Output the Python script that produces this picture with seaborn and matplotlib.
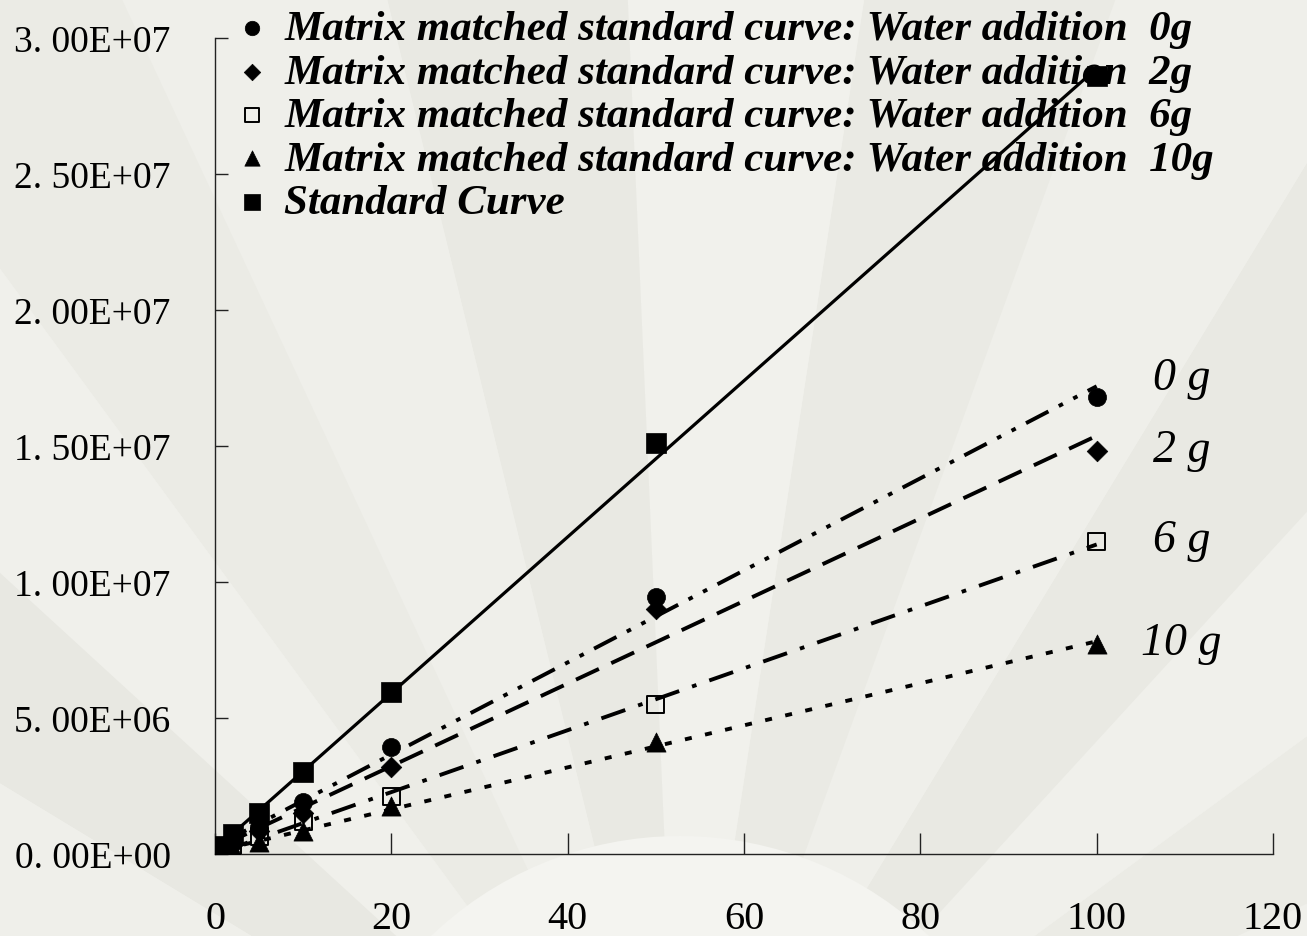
import numpy as np
import pandas as pd
import seaborn as sns
import matplotlib
matplotlib.use("Agg")
import matplotlib.pyplot as plt
from matplotlib.patches import Wedge

# ---------------- data ----------------
conc = [1, 2, 5, 10, 20, 50, 100]
std_curve = [0.28e6, 0.75e6, 1.5e6, 3.0e6, 5.95e6, 1.51e7, 2.86e7]
water_0g = [0.2e6, 0.45e6, 1.0e6, 1.9e6, 3.93e6, 9.45e6, 1.68e7]
water_2g = [0.17e6, 0.38e6, 0.85e6, 1.5e6, 3.2e6, 9.0e6, 1.48e7]
water_6g = [0.13e6, 0.3e6, 0.65e6, 1.2e6, 2.13e6, 5.48e6, 1.15e7]
water_10g = [0.09e6, 0.2e6, 0.45e6, 0.85e6, 1.76e6, 4.12e6, 7.72e6]

legend_labels = [
    "Matrix matched standard curve: Water addition  0g",
    "Matrix matched standard curve: Water addition  2g",
    "Matrix matched standard curve: Water addition  6g",
    "Matrix matched standard curve: Water addition  10g",
    "Standard Curve",
]
end_labels = ["0 g", "2 g", "6 g", "10 g"]
end_label_y = [1.75e7, 1.485e7, 1.155e7, 7.75e6]

x_ticks = [0, 20, 40, 60, 80, 100, 120]
y_ticks = [0, 5e6, 1e7, 1.5e7, 2e7, 2.5e7, 3e7]
y_tick_labels = ["0. 00E+00", "5. 00E+06", "1. 00E+07", "1. 50E+07",
                 "2. 00E+07", "2. 50E+07", "3. 00E+07"]

# ---------------- styling ----------------
sns.set_theme(style="white")
plt.rcParams["font.family"] = ["Liberation Serif", "DejaVu Serif"]
plt.rcParams["text.color"] = "black"
plt.rcParams["xtick.color"] = "black"
plt.rcParams["ytick.color"] = "black"
plt.rcParams["axes.labelcolor"] = "black"

fig = plt.figure(figsize=(13.07, 9.37), dpi=100)
fig.patch.set_facecolor("#f0f0eb")

# faint fan-like background
bg = fig.add_axes([0, 0, 1, 1], zorder=-5)
bg.set_xlim(0, 1307)
bg.set_ylim(0, 937)
bg.axis("off")
shades = ["#ebebe5", "#f0f0eb", "#e9e9e3", "#efefea", "#eaeae4", "#f1f1ec",
          "#e9e9e3", "#efefea", "#ebebe5", "#f0f0eb", "#e8e8e2", "#efefea"]
angles = np.linspace(25, 160, len(shades) + 1)
for i, c in enumerate(shades):
    bg.add_patch(Wedge((680, -260), 1450, angles[i], angles[i + 1],
                       facecolor=c, edgecolor="none"))
bg.add_patch(Wedge((680, -260), 360, 0, 180, facecolor="#f4f4f0", edgecolor="none"))

ax = fig.add_axes([0.1645, 0.0875, 0.8095, 0.871])
ax.set_facecolor("none")

series = [
    (water_0g, "o", (0, (6.5, 3, 1.2, 3, 1.2, 3)), "black", 170),
    (water_2g, "D", (0, (6.5, 3.5)), "black", 110),
    (water_6g, "s", (0, (6.5, 3.5, 1.2, 3.5)), "none", 150),
    (water_10g, "^", (0, (1.8, 3.5)), "black", 190),
    (std_curve, "s", "-", "black", 190),
]

for (vals, mk, ls, fc, size), lab in zip(series, legend_labels):
    df = pd.DataFrame({"x": conc, "y": vals})
    lw = 2.3 if ls == "-" else 2.8
    sns.regplot(data=df, x="x", y="y", scatter=False, ci=None, ax=ax,
                line_kws=dict(color="black", lw=lw, linestyle=ls,
                              dash_capstyle="butt", zorder=2))
    sns.scatterplot(data=df, x="x", y="y", marker=mk, s=size, ax=ax,
                    facecolor=fc, edgecolor="black",
                    linewidth=1.4 if fc == "none" else 0.5,
                    label=lab, zorder=3)

for lab, yv in zip(end_labels, end_label_y):
    ax.text(109.6, yv, lab, ha="center", va="center", fontsize=33,
            style="italic", color="black")

ax.set_xlim(0, 120)
ax.set_ylim(0, 3e7)
ax.set_xticks(x_ticks)
ax.set_xticklabels([str(t) for t in x_ticks], fontsize=29)
ax.set_yticks(y_ticks)
ax.set_yticklabels(y_tick_labels, fontsize=27)
ax.set_xlabel("")
ax.set_ylabel("")

for side in ["top", "right"]:
    ax.spines[side].set_visible(False)
for side in ["left", "bottom"]:
    ax.spines[side].set_color("#222222")
    ax.spines[side].set_linewidth(1.0)

ax.tick_params(axis="y", direction="in", length=9, width=1.0, color="#222222", pad=32, left=True)
ax.tick_params(axis="x", direction="in", length=15, width=1.0, color="#222222", pad=33, bottom=True)

leg = ax.legend(loc="upper left", bbox_to_anchor=(0.163, 1.012), bbox_transform=fig.transFigure,
                frameon=False, markerscale=0.8, handletextpad=0.35, handlelength=0.8,
                labelspacing=0.1, borderpad=0.0,
                prop=dict(family="Liberation Serif", style="italic", weight="bold", size=31))

fig.savefig("out.png", dpi=100)
